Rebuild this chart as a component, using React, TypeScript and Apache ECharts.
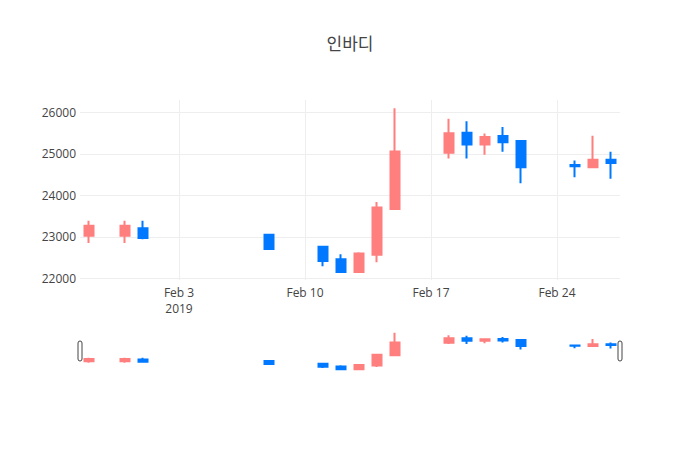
import React, { useRef, useEffect } from 'react';
import * as echarts from 'echarts';

const FONT = '"Open Sans", "Noto Sans CJK KR", sans-serif';
const TITLE = '인바디';

// ─── Data ────────────────────────────────────────────────────────────────────
const DATES = [
  '2019-01-29', '2019-01-31', '2019-02-01', '2019-02-08', '2019-02-11',
  '2019-02-12', '2019-02-13', '2019-02-14', '2019-02-15', '2019-02-18',
  '2019-02-19', '2019-02-20', '2019-02-21', '2019-02-22', '2019-02-25',
  '2019-02-26', '2019-02-27',
];
const OPEN  = [23025, 23025, 23210, 23050, 22760, 22460, 22150, 22570, 23670, 25030, 25510, 25230, 25430, 25310, 24730, 24680, 24860];
const CLOSE = [23270, 23270, 22970, 22710, 22420, 22150, 22600, 23710, 25060, 25500, 25230, 25410, 25280, 24680, 24700, 24860, 24780];
const LOW   = [22850, 22850, 22940, 22690, 22290, 22140, 22140, 22390, 23650, 24890, 24890, 24980, 25050, 24290, 24440, 24680, 24400];
const HIGH  = [23390, 23390, 23390, 23050, 22780, 22580, 22630, 23840, 26100, 25850, 25790, 25490, 25650, 25310, 24840, 25440, 25050];

const X_TICK_DATES = ['2019-02-03', '2019-02-10', '2019-02-17', '2019-02-24'];
const Y_TICKS = [22000, 23000, 24000, 25000, 26000];
const MONTHS = ['Jan', 'Feb', 'Mar', 'Apr', 'May', 'Jun', 'Jul', 'Aug', 'Sep', 'Oct', 'Nov', 'Dec'];

const DAY = 86400000;
function ts(s: string): number {
  const [y, m, d] = s.split('-').map(Number);
  return Date.UTC(y, m - 1, d);
}
const X_TICKS = X_TICK_DATES.map(ts);

// axis ranges (plotly autorange: half a day of padding each side)
const X_MIN = ts('2019-01-29') - DAY / 2;
const X_MAX = ts('2019-02-27') + DAY / 2;
const Y_MIN = 21960;
const Y_MAX = 26300;

// ─── Styles ──────────────────────────────────────────────────────────────────
const UP_COLOR   = '#FF7F7F';
const DOWN_COLOR = '#0078FF';
const GRID_COLOR = '#EEEEEE';
const TEXT_COLOR = '#444444';

const PLOT_L = 80, PLOT_R = 80, PLOT_T = 100, PLOT_H = 180;
const SLIDER_T = 331, SLIDER_H = 40;

function candleData() {
  return DATES.map((d, i) => [ts(d), OPEN[i], CLOSE[i], LOW[i], HIGH[i]]);
}

function fmtDate(v: number): string {
  const d = new Date(v);
  const s = `${MONTHS[d.getUTCMonth()]} ${d.getUTCDate()}`;
  return v === X_TICKS[0] ? `${s}\n${d.getUTCFullYear()}` : s;
}

function getOption(): echarts.EChartsCoreOption {
  const candleStyle = {
    color: UP_COLOR,
    color0: DOWN_COLOR,
    borderColor: UP_COLOR,
    borderColor0: DOWN_COLOR,
    borderWidth: 2,
  };
  return {
    animation: false,
    backgroundColor: '#FFFFFF',
    textStyle: { fontFamily: FONT },
    title: {
      text: TITLE,
      left: 'center',
      top: 30,
      textStyle: { fontFamily: FONT, fontSize: 17, fontWeight: 'normal', color: TEXT_COLOR },
    },
    grid: [
      { left: PLOT_L, right: PLOT_R, top: PLOT_T, height: PLOT_H },
      { left: PLOT_L, right: PLOT_R, top: SLIDER_T, height: SLIDER_H },
    ],
    xAxis: [
      {
        type: 'value',
        gridIndex: 0,
        min: X_MIN,
        max: X_MAX,
        axisLine: { show: false },
        axisTick: { show: false, customValues: X_TICKS },
        axisLabel: {
          customValues: X_TICKS,
          formatter: (v: number) => fmtDate(v),
          color: TEXT_COLOR,
          fontSize: 12,
          fontFamily: FONT,
          lineHeight: 16,
          margin: 4,
        },
        splitLine: { show: true, lineStyle: { color: GRID_COLOR, width: 1 } },
      },
      {
        type: 'value',
        gridIndex: 1,
        min: X_MIN,
        max: X_MAX,
        show: false,
        splitLine: { show: false },
      },
    ],
    yAxis: [
      {
        type: 'value',
        gridIndex: 0,
        min: Y_MIN,
        max: Y_MAX,
        axisLine: { show: false },
        axisTick: { show: false, customValues: Y_TICKS },
        axisLabel: {
          customValues: Y_TICKS,
          formatter: (v: number) => String(v),
          color: TEXT_COLOR,
          fontSize: 12,
          fontFamily: FONT,
          margin: 4,
        },
        splitLine: { show: true, lineStyle: { color: GRID_COLOR, width: 1 } },
      },
      {
        type: 'value',
        gridIndex: 1,
        min: Y_MIN,
        max: Y_MAX,
        show: false,
        splitLine: { show: false },
      },
    ],
    graphic: [
      // range slider grabbers at both ends
      {
        type: 'rect',
        shape: { x: PLOT_L - 2, y: SLIDER_T + 10, width: 4, height: 20, r: 2 },
        style: { fill: '#FFFFFF', stroke: '#444444', lineWidth: 1 },
        z: 10,
      },
      {
        type: 'rect',
        shape: { x: 700 - PLOT_R - 2, y: SLIDER_T + 10, width: 4, height: 20, r: 2 },
        style: { fill: '#FFFFFF', stroke: '#444444', lineWidth: 1 },
        z: 10,
      },
    ],
    series: [
      {
        type: 'candlestick',
        xAxisIndex: 0,
        yAxisIndex: 0,
        barWidth: 9,
        encode: { x: 0, y: [1, 2, 3, 4] },
        itemStyle: candleStyle,
        data: candleData(),
      },
      {
        type: 'candlestick',
        xAxisIndex: 1,
        yAxisIndex: 1,
        barWidth: 9,
        encode: { x: 0, y: [1, 2, 3, 4] },
        itemStyle: candleStyle,
        data: candleData(),
      },
    ],
  };
}

function CandleChart() {
  const ref = useRef<HTMLDivElement>(null);

  useEffect(() => {
    if (!ref.current) return;
    const chart = echarts.init(ref.current, undefined, { renderer: 'svg' });
    chart.setOption(getOption());
    return () => chart.dispose();
  }, []);

  return <div ref={ref} style={{ width: 700, height: 450 }} />;
}

export default function App() {
  return (
    <div style={{ position: 'fixed', left: 0, top: 0, width: 700, height: 450, background: '#fff' }}>
      <CandleChart />
    </div>
  );
}
